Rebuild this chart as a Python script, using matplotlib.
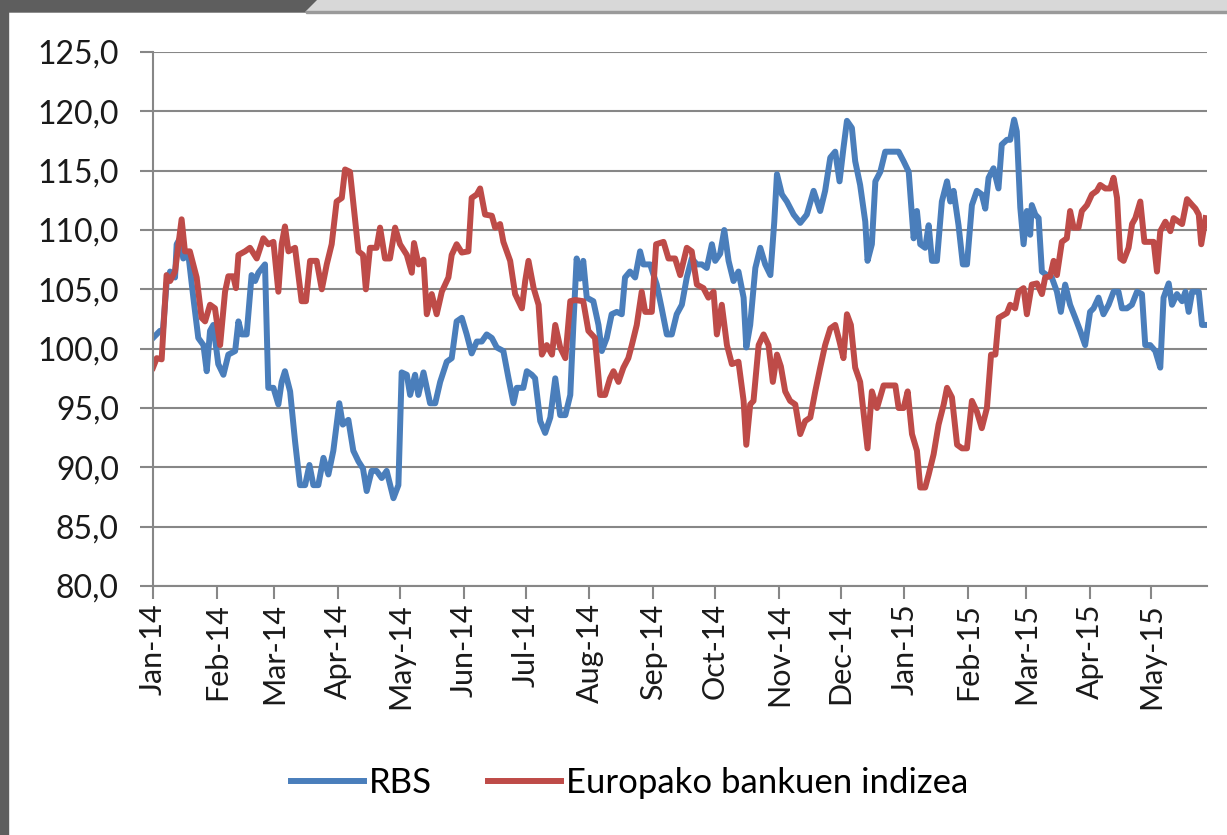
import numpy as np
import pandas as pd
import matplotlib
matplotlib.use("Agg")
import matplotlib.pyplot as plt
import matplotlib.dates as mdates
from matplotlib.patches import Rectangle, Polygon

# days after 2014-01-01 and index values
rbs_days = [0.0, 3.4, 4.8, 6.6, 8.3, 10.7, 11.5, 13.1, 14.7, 17.2, 19.6, 22.0, 24.5, 26.1, 27.7,
            29.3, 31.7, 34.2, 36.6, 39.9, 41.5, 43.1, 45.5, 47.9, 49.6, 51.2, 54.4, 56.0, 58.5,
            60.9, 62.5, 64.1, 66.6, 69.0, 71.4, 73.9, 76.0, 77.9, 80.3, 82.8, 85.2, 87.6, 90.5,
            92.2, 94.9, 97.3, 99.8, 102.0, 103.8, 106.2, 108.6, 111.1, 113.5, 116.8, 119.2,
            120.8, 123.3, 124.9, 127.3, 128.9, 131.4, 134.6, 137.1, 139.5, 142.7, 145.1, 147.5,
            150.0, 152.4, 154.8, 157.3, 159.7, 162.1, 164.6, 167.0, 170.2, 172.7, 175.1, 176.7,
            179.9, 181.6, 184.0, 185.6, 188.1, 190.5, 193.0, 195.4, 197.8, 200.3, 202.7, 204.2,
            205.8, 207.4, 209.0, 210.7, 213.9, 216.4, 218.0, 220.4, 222.8, 225.3, 227.7, 229.3,
            231.7, 234.2, 236.6, 238.2, 241.5, 244.7, 247.1, 249.6, 252.0, 254.4, 256.9, 259.3,
            261.7, 264.2, 266.6, 269.0, 271.5, 273.1, 275.5, 277.5, 279.6, 282.0, 284.4, 286.9,
            288.2, 290.1, 292.6, 295.0, 297.4, 299.9, 301.8, 303.1, 305.5, 307.9, 311.2, 314.4,
            317.6, 320.9, 324.1, 326.5, 329.0, 331.4, 333.5, 335.4, 337.1, 339.5, 341.1, 343.5,
            346.0, 347.1, 349.2, 350.9, 353.3, 355.7, 359.8, 362.2, 364.6, 367.1, 369.5, 371.1,
            372.7, 375.1, 376.8, 378.4, 380.8, 383.2, 385.7, 387.3, 388.9, 391.3, 393.4, 395.4,
            397.8, 400.2, 402.6, 404.3, 405.9, 408.3, 410.7, 412.3, 414.8, 416.4, 418.3, 419.6,
            421.3, 422.9, 424.5, 426.1, 426.9, 428.6, 430.2, 431.8, 434.2, 436.6, 439.1, 441.0,
            443.1, 445.5, 448.0, 450.4, 452.8, 455.2, 456.9, 459.3, 461.7, 464.2, 466.6, 469.0,
            470.7, 473.1, 475.5, 478.0, 480.4, 482.0, 484.4, 486.9, 489.3, 490.9, 493.4, 495.0,
            497.4, 499.9, 501.5, 503.1, 504.8, 508.0, 509.6, 511.7]
rbs_vals = [100.9, 101.5, 101.5, 105.5, 106.5, 106.0, 108.8, 109.3, 107.6, 107.9, 104.3, 100.9,
            100.3, 98.1, 101.5, 102.0, 98.7, 97.8, 99.5, 99.8, 102.3, 101.2, 101.2, 106.2, 105.7,
            106.4, 107.1, 96.7, 96.7, 95.3, 97.2, 98.1, 96.4, 92.2, 88.5, 88.5, 90.2, 88.5, 88.5,
            90.8, 89.4, 91.4, 95.4, 93.6, 94.0, 91.4, 90.5, 89.9, 88.0, 89.7, 89.7, 89.1, 89.7,
            87.4, 88.5, 98.0, 97.8, 96.1, 97.8, 96.1, 98.0, 95.4, 95.4, 97.2, 98.9, 99.2, 102.3,
            102.6, 101.2, 99.6, 100.6, 100.6, 101.2, 100.9, 100.1, 99.8, 97.5, 95.4, 96.7, 96.7,
            98.1, 97.8, 97.5, 93.9, 92.9, 94.2, 97.5, 94.4, 94.4, 96.1, 102.0, 107.6, 105.9,
            107.4, 104.3, 104.0, 102.0, 99.8, 100.9, 102.9, 103.1, 102.9, 106.0, 106.5, 106.0,
            108.2, 107.1, 107.1, 105.4, 103.4, 101.2, 101.2, 102.9, 103.7, 106.0, 107.6, 107.1,
            107.1, 106.8, 108.8, 107.4, 108.0, 110.0, 107.4, 105.7, 106.5, 104.3, 100.1, 102.0,
            106.8, 108.5, 107.1, 106.2, 110.7, 114.7, 113.0, 112.4, 111.3, 110.6, 111.3, 113.3,
            111.6, 113.3, 116.1, 116.6, 114.1, 116.9, 119.2, 118.6, 115.8, 113.8, 110.7, 107.4,
            108.8, 114.1, 114.9, 116.6, 116.6, 116.6, 115.8, 114.9, 109.3, 111.6, 108.8, 108.5,
            110.4, 107.4, 107.4, 112.4, 114.1, 112.4, 113.3, 110.4, 107.1, 107.1, 112.1, 113.3,
            113.0, 111.8, 114.4, 115.2, 113.5, 117.2, 117.6, 117.6, 119.3, 118.3, 111.9, 108.8,
            111.6, 109.6, 112.1, 111.3, 111.0, 106.5, 106.2, 106.0, 104.8, 103.1, 105.4, 103.7,
            102.6, 101.5, 100.3, 103.1, 103.4, 104.3, 102.9, 103.7, 104.8, 104.8, 103.4, 103.4,
            103.7, 104.8, 104.6, 100.3, 100.3, 99.8, 98.4, 104.3, 105.5, 103.7, 104.6, 104.0,
            104.8, 103.1, 104.8, 104.8, 102.0, 102.0]

eur_days = [0.0, 1.8, 4.2, 6.6, 8.3, 10.7, 13.9, 15.5, 17.9, 21.2, 23.6, 25.3, 27.7, 30.1, 32.6,
            35.0, 36.6, 39.0, 40.3, 41.5, 44.7, 47.1, 50.4, 53.6, 56.0, 58.5, 60.9, 62.5, 64.1,
            65.8, 69.0, 72.2, 74.3, 76.3, 79.5, 82.0, 84.4, 86.8, 89.2, 91.7, 93.3, 95.7, 99.8,
            102.0, 103.4, 105.4, 108.6, 110.3, 112.7, 115.1, 117.6, 120.0, 123.3, 125.7, 126.8,
            129.0, 131.4, 133.0, 135.4, 137.8, 140.3, 143.5, 145.1, 147.5, 150.0, 153.2, 154.8,
            157.3, 158.9, 161.3, 164.6, 166.2, 168.6, 170.2, 173.5, 175.9, 179.2, 180.8, 182.4,
            184.9, 187.3, 188.9, 191.3, 193.8, 195.4, 197.8, 200.3, 202.7, 205.1, 209.0, 211.5,
            214.7, 217.2, 219.6, 222.0, 223.7, 226.1, 228.5, 230.9, 232.6, 235.0, 237.4, 239.1,
            242.3, 244.4, 248.0, 250.4, 253.6, 256.1, 259.3, 261.7, 264.2, 267.4, 269.8, 272.3,
            273.9, 276.3, 278.8, 281.2, 284.4, 286.9, 288.2, 290.1, 291.7, 294.2, 296.6, 299.0,
            301.1, 303.1, 305.0, 307.1, 309.5, 312.0, 314.4, 316.8, 319.3, 321.7, 324.1, 326.5,
            329.0, 331.4, 333.5, 335.4, 337.1, 339.0, 341.1, 343.5, 345.1, 347.1, 349.2, 351.7,
            354.9, 358.1, 360.6, 362.2, 364.6, 366.6, 368.7, 371.1, 372.7, 375.1, 376.8, 379.2,
            381.6, 384.1, 385.7, 388.1, 390.6, 393.0, 395.4, 397.8, 400.2, 402.6, 405.1, 407.1,
            409.2, 410.8, 414.8, 416.4, 418.8, 420.4, 422.9, 424.5, 426.9, 429.4, 431.8, 433.4,
            435.8, 437.5, 439.1, 441.5, 443.9, 445.5, 447.2, 449.6, 451.2, 453.7, 456.1, 458.5,
            460.1, 462.6, 465.0, 466.6, 468.3, 469.9, 471.5, 473.9, 475.6, 477.2, 479.6, 481.6,
            483.7, 486.1, 487.7, 489.3, 491.8, 494.2, 495.8, 498.3, 499.9, 502.3, 504.8, 506.4,
            508.0, 509.2, 511.3]
eur_vals = [98.4, 99.2, 99.1, 106.2, 105.7, 106.5, 110.9, 108.2, 108.2, 106.0, 102.6, 102.3,
            103.7, 103.4, 100.3, 104.8, 106.1, 106.1, 105.1, 107.9, 108.2, 108.5, 107.6, 109.3,
            108.8, 109.0, 104.8, 108.8, 110.3, 108.2, 108.5, 104.0, 104.0, 107.4, 107.4, 105.0,
            107.1, 108.8, 112.4, 112.7, 115.1, 114.9, 108.2, 107.9, 105.0, 108.5, 108.5, 110.2,
            107.6, 107.6, 110.2, 108.8, 107.9, 106.4, 108.9, 107.1, 107.5, 102.9, 104.6, 102.9,
            104.8, 106.0, 107.9, 108.8, 108.1, 108.2, 112.7, 113.0, 113.5, 111.3, 111.2, 110.2,
            110.5, 109.0, 107.4, 104.6, 103.4, 105.7, 107.4, 105.1, 103.7, 99.5, 100.3, 99.5,
            102.0, 100.1, 99.2, 104.0, 104.1, 104.0, 101.5, 100.9, 96.1, 96.1, 97.5, 98.1, 97.2,
            98.4, 99.2, 100.3, 102.0, 104.8, 103.1, 103.1, 108.8, 109.0, 107.6, 107.6, 106.2,
            108.5, 108.2, 105.4, 105.1, 104.3, 104.8, 101.2, 103.7, 100.3, 98.7, 98.9, 95.6,
            91.9, 95.3, 95.6, 100.3, 101.2, 100.3, 97.2, 99.5, 98.5, 96.4, 95.6, 95.3, 92.8,
            93.9, 94.2, 96.4, 98.4, 100.3, 101.7, 102.0, 100.6, 99.2, 102.9, 102.0, 98.4, 97.2,
            94.7, 91.6, 96.4, 95.0, 96.9, 96.9, 96.9, 95.0, 95.0, 96.4, 92.8, 91.4, 88.3, 88.3,
            89.4, 91.1, 93.6, 95.3, 96.7, 95.9, 91.9, 91.6, 91.6, 95.6, 94.7, 93.3, 95.0, 99.5,
            99.5, 102.6, 103.0, 103.7, 103.4, 104.8, 105.1, 102.9, 105.4, 105.5, 104.6, 106.0,
            106.1, 107.4, 106.2, 109.0, 109.3, 111.6, 110.2, 110.2, 111.6, 112.1, 113.0, 113.3,
            113.8, 113.5, 113.5, 114.4, 112.7, 107.6, 107.4, 108.5, 110.5, 111.0, 112.4, 109.0,
            109.0, 109.0, 106.5, 109.9, 110.7, 109.9, 111.0, 110.7, 110.5, 112.6, 112.1, 111.8,
            111.3, 108.8, 111.0]

start = pd.Timestamp("2014-01-01")
rbs_dates = start + pd.to_timedelta(rbs_days, unit="D")
eur_dates = start + pd.to_timedelta(eur_days, unit="D")

plt.rcParams["font.family"] = ["Lato", "DejaVu Sans"]

fig = plt.figure(figsize=(12.27, 8.35), dpi=100)
fig.patch.set_facecolor("white")

# frame around the picture
fig.patches.append(Rectangle((0, 0), 8 / 1227, 1, transform=fig.transFigure,
                             color="#5e5e5e", zorder=0))
fig.patches.append(Polygon([(0, 1), (318 / 1227, 1), (306 / 1227, 1 - 12 / 835), (0, 1 - 12 / 835)],
                           closed=True, transform=fig.transFigure, color="#5e5e5e", zorder=0))
fig.patches.append(Polygon([(318 / 1227, 1), (1, 1), (1, 1 - 11 / 835), (306 / 1227, 1 - 12 / 835)],
                           closed=True, transform=fig.transFigure, color="#d8d8d8", zorder=0))
fig.patches.append(Rectangle((306 / 1227, 1 - 13 / 835), 1, 2 / 835, transform=fig.transFigure,
                             color="#9a9a9a", zorder=0))

ax = fig.add_axes([153 / 1227, 1 - 586 / 835, 1054 / 1227, 534 / 835])

ax.plot(rbs_dates, rbs_vals, color="#4a7ebb", lw=4.3, label="RBS", solid_joinstyle="round")
ax.plot(eur_dates, eur_vals, color="#be4b48", lw=4.3, label="Europako bankuen indizea",
        solid_joinstyle="round")

ax.set_xlim(start, start + pd.Timedelta(days=512))
ax.set_ylim(80, 125)
ax.set_yticks(np.arange(80, 126, 5))
ax.yaxis.set_major_formatter(plt.FuncFormatter(lambda v, p: f"{v:.1f}".replace(".", ",")))
ax.xaxis.set_major_locator(mdates.MonthLocator())
ax.xaxis.set_major_formatter(mdates.DateFormatter("%b-%y"))

ax.grid(axis="y", color="#878787", lw=1.5)
ax.set_axisbelow(True)
for s in ["top", "right"]:
    ax.spines[s].set_visible(False)
for s in ["left", "bottom"]:
    ax.spines[s].set_color("#878787")
    ax.spines[s].set_linewidth(1.5)

ax.tick_params(axis="y", length=9.5, width=1.5, color="#878787", labelsize=23, pad=15,
               labelcolor="#1a1a1a")
ax.tick_params(axis="x", length=9.5, width=1.5, color="#878787", labelsize=22, pad=3,
               labelrotation=90, labelcolor="#1a1a1a")

fig.legend(loc="center", bbox_to_anchor=(0.513, 0.062), ncol=2, frameon=False,
           fontsize=25, handlelength=2.1, columnspacing=1.6, handletextpad=0.15)

fig.savefig("out.png", dpi=100)
